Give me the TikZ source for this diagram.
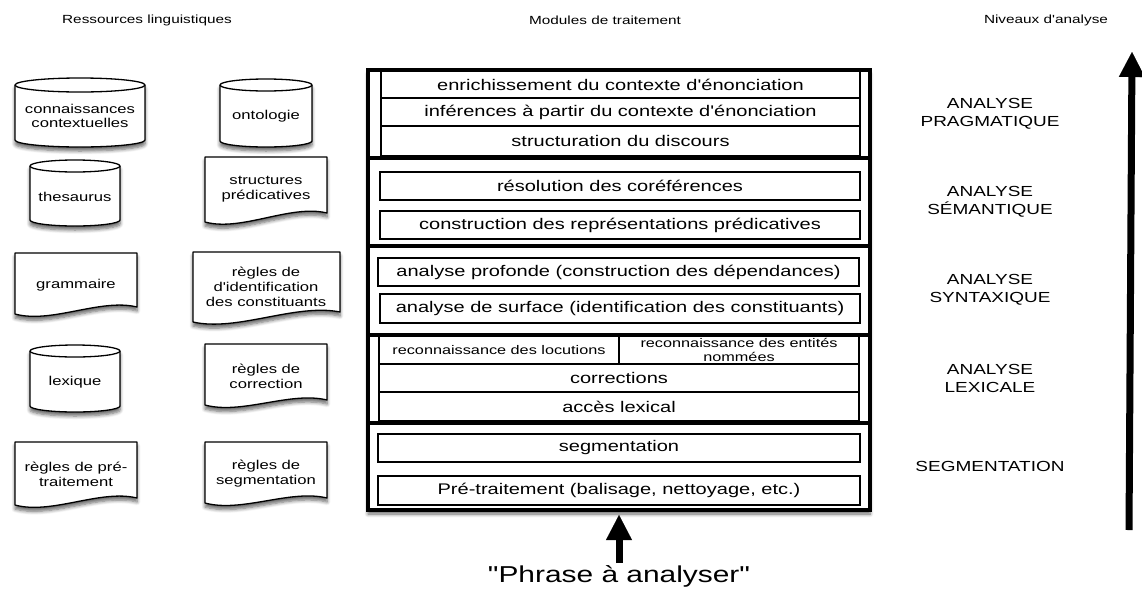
\documentclass[tikz,border=0pt]{standalone}
\usepackage{fontspec}
\newfontfamily\diafont{Liberation Sans}[FakeStretch=1.3]
\usetikzlibrary{calc,arrows.meta,shadows.blur}

\tikzset{
  shapeline/.style={draw=black, line width=1.3pt, fill=white, line join=round},
  softshadow/.style={blur shadow={shadow xshift=0pt, shadow yshift=-4pt, shadow blur radius=3.5pt, shadow blur steps=6, shadow opacity=60}},
  framebox/.style={draw=black, line width=4.5pt, fill=white, inner sep=0pt},
  modbox/.style={draw=black, line width=1.2pt, inner sep=0pt, font=\diafont\fontsize{15.4pt}{18pt}\selectfont},
  smallbox/.style={draw=black, line width=1.2pt, inner sep=0pt, align=center, font=\diafont\fontsize{12.5pt}{13.5pt}\selectfont},
  restxt/.style={font=\diafont\fontsize{12.8pt}{14.8pt}\selectfont, align=center, inner sep=0pt},
  lvltxt/.style={font=\diafont\fontsize{14.6pt}{18pt}\selectfont, align=center, inner sep=0pt},
  headtxt/.style={font=\diafont\fontsize{11.8pt}{14pt}\selectfont, inner sep=0pt},
  phrasetxt/.style={font=\diafont\fontsize{23pt}{26pt}\selectfont, inner sep=0pt},
  bigarrow/.style={line width=7pt, -{Triangle[length=25pt,width=26pt,line width=0.1pt,fill=black]}},
}

% document shape: x0, x1, ytop, ybottom-left, ybottom-right
\newcommand{\resdoc}[5]{%
  \path[shapeline, softshadow] (#1,#3) -- (#2,#3) -- (#2,#5)
    .. controls ($(#1,#5)!0.7!(#2,#5)+(0,-9)$) and ($(#1,#4)!0.3!(#2,#4)+(0,10)$) .. (#1,#4) -- cycle;
}
% cylinder: x0, x1, ytop centre, ybottom centre, ry
\newcommand{\rescyl}[5]{%
  \pgfmathsetmacro\cylrx{(#2-#1)/2}%
  \path[shapeline, softshadow] (#1,#3) -- (#1,#4)
    arc[start angle=180, end angle=360, x radius=\cylrx pt, y radius=#5pt] -- (#2,#3)
    arc[start angle=0, end angle=180, x radius=\cylrx pt, y radius=#5pt] -- cycle;
  \draw[line width=1.3pt] (#1,#3) arc[start angle=180, end angle=360, x radius=\cylrx pt, y radius=#5pt];
}

\begin{document}
\begin{tikzpicture}[x=1pt, y=-1pt]
\useasboundingbox (0,0) rectangle (1142,592);

% headings
\node[headtxt] (h1) at (147,20) {Ressources linguistiques};
\node[headtxt] (h2) at (605,20) {Modules de traitement};
\node[headtxt] (h3) at (1046,20) {Niveaux d'analyse};

% ---------- linguistic resources ----------
\rescyl{15}{145}{85}{140}{7}
\node[restxt] (conn) at (80,116) {connaissances\\contextuelles};
\rescyl{220}{312}{85}{141}{6}
\node[restxt] (onto) at (266,116) {ontologie};
\rescyl{30}{120}{166}{220}{6}
\node[restxt] (thes) at (75,197) {thesaurus};
\resdoc{205}{327}{157}{222}{213}
\node[restxt] (pred) at (266,189) {structures\\prédicatives};
\resdoc{15}{137}{253}{314}{307}
\node[restxt] (gram) at (76,285) {grammaire};
\resdoc{193}{340}{252}{322}{312}
\node[restxt] (ident) at (266,287) {règles de\\d'identification\\des constituants};
\rescyl{30}{120}{351}{406}{6}
\node[restxt] (lex) at (75,382) {lexique};
\resdoc{205}{327}{344}{405}{400}
\node[restxt] (corr) at (266,376) {règles de\\correction};
\resdoc{15}{137}{442}{505}{498}
\node[restxt] (pretr) at (76,474) {règles de pré-\\traitement};
\resdoc{205}{327}{442}{503}{498}
\node[restxt] (segr) at (266,474) {règles de\\segmentation};

% ---------- processing modules ----------
\path[fill=white, softshadow] (368,70) rectangle (870,510);
\node[framebox, minimum width=502pt, minimum height=88pt] (L1) at (619,114) {};
\node[framebox, minimum width=502pt, minimum height=88pt] (L2) at (619,202) {};
\node[framebox, minimum width=502pt, minimum height=89pt] (L3) at (619,290.5) {};
\node[framebox, minimum width=502pt, minimum height=88pt] (L4) at (619,379) {};
\node[framebox, minimum width=502pt, minimum height=87pt] (L5) at (619,466.5) {};

\node[modbox, minimum width=479pt, minimum height=27pt] (enr) at (620.5,84.5) {enrichissement du contexte d'énonciation};
\node[modbox, minimum width=479pt, minimum height=28pt] (inf) at (620.5,112) {inférences à partir du contexte d'énonciation};
\node[modbox, minimum width=479pt, minimum height=30pt] (disc) at (620.5,141) {structuration du discours};

\node[modbox, minimum width=480pt, minimum height=28pt] (res) at (620,186) {résolution des coréférences};
\node[modbox, minimum width=480pt, minimum height=28pt] (cons) at (620,225) {construction des représentations prédicatives};

\node[modbox, minimum width=481pt, minimum height=28pt] (prof) at (618.5,272) {analyse profonde (construction des dépendances)};
\node[modbox, minimum width=480pt, minimum height=29pt] (surf) at (620,308.5) {analyse de surface (identification des constituants)};

\node[smallbox, minimum width=240pt, minimum height=28pt] (loc) at (499,350) {reconnaissance des locutions};
\node[smallbox, minimum width=240pt, minimum height=28pt] (ent) at (739,350) {reconnaissance des entités\\nommées};
\node[modbox, minimum width=480pt, minimum height=28pt] (corrm) at (619,378) {corrections};
\node[modbox, minimum width=480pt, minimum height=29pt] (acc) at (619,406.5) {accès lexical};

\node[modbox, minimum width=482pt, minimum height=28pt] (segm) at (619,448) {segmentation};
\node[modbox, minimum width=482pt, minimum height=29pt] (pre) at (619,490.5) {Pré-traitement (balisage, nettoyage, etc.)};

% input sentence
\node[phrasetxt, anchor=base] (phrase) at (619,582) {"Phrase à analyser"};
\coordinate (pin) at (619,563);
\coordinate (pout) at (619,515);
\draw[bigarrow] (pin) -- (pout);

% ---------- analysis levels ----------
\node[lvltxt] (prag) at (990,114) {ANALYSE\\PRAGMATIQUE};
\node[lvltxt] (sem) at (990,202) {ANALYSE\\SÉMANTIQUE};
\node[lvltxt] (synt) at (990,289.5) {ANALYSE\\SYNTAXIQUE};
\node[lvltxt] (lexl) at (990,378.5) {ANALYSE\\LEXICALE};
\node[lvltxt] (segl) at (990,466) {SEGMENTATION};

\coordinate (lvlbot) at (1129,530);
\coordinate (lvltop) at (1132,52);
\draw[bigarrow] (lvlbot) -- (lvltop);
\end{tikzpicture}
\end{document}
